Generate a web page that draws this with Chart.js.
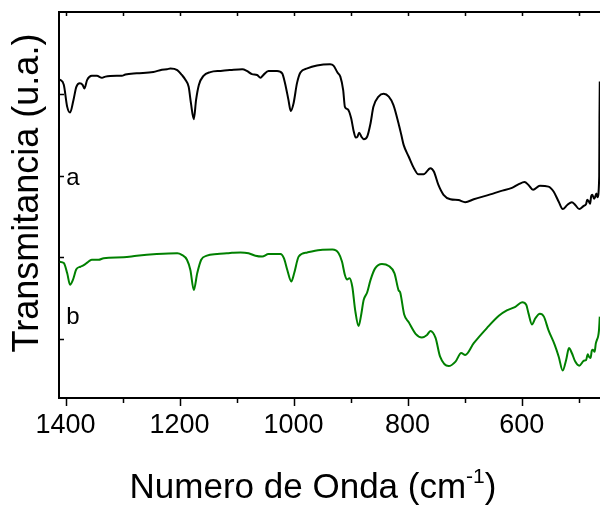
<!DOCTYPE html>
<html>
<head>
<meta charset="utf-8">
<script src="https://cdn.jsdelivr.net/npm/chart.js@4.4.1/dist/chart.umd.min.js"></script>
<style>
  html, body { margin: 0; padding: 0; background: #fff; }
  #wrap { width: 600px; height: 506px; }
</style>
</head>
<body>
<div id="wrap"><canvas id="c" width="600" height="506"></canvas></div>
<script>
// Spectrum a (black)
const wavenumberA = [1410,1403,1397,1392,1386,1381,1375,1370,1367,1362,1354,1345,1336,1330,1310,1301,1295,1275,1246,1231,1222,1216,1204,1196,1190,1184,1180,1175,1171,1166,1158,1146,1128,1111,1090,1082,1073,1064,1058,1053,1044,1029,1020,1015,1009,1005,1000,994,988,976,959,936,930,923,918,913,910,905,899,895,891,888,885,881,877,871,865,860,851,842,833,825,816,811,807,798,789,781,772,760,754,746,737,725,711,699,684,655,637,617,605,595,588,580,568,553,544,535,528,520,512,506,499,491,487,485,482,480,478,476,473,471,469,467,464,463.5,463];
const transA = [83.5,82.2,76.8,75.4,78.5,81.7,82.6,82.2,81.3,83.4,84.4,84.4,83.9,84.2,84.4,84.4,84.7,85.0,85.3,85.9,86.0,86.2,85.8,84.6,83.5,81.7,77.7,73.8,78.5,82.2,84.4,85.3,85.6,85.8,86.0,85.6,84.8,84.6,83.9,84.6,85.6,85.6,85.0,82.6,78.5,75.8,77.7,82.6,85.2,86.2,86.9,87.2,86.9,85.2,84.2,80.9,76.8,76.2,74.0,71.1,69.3,69.5,70.5,69.5,68.9,69.5,72.8,76.8,79.3,80.0,79.3,77.3,72.8,69.9,67.5,64.6,61.8,60.3,60.3,61.8,61.0,57.7,55.3,54.2,54.0,53.5,54.2,55.4,56.2,57.0,57.9,58.4,57.7,56.5,57.5,57.3,56.1,53.6,51.8,52.8,53.5,52.8,51.8,52.6,53.0,54.1,53.6,53.1,55.0,55.3,54.3,54.8,55.6,54.7,59.7,74.0,83.0];

// Spectrum b (green)
const wavenumberB = [1410,1403,1397,1392,1387,1381,1374,1368,1362,1354,1342,1333,1298,1275,1240,1204,1196,1187,1181,1175,1169,1162,1152,1134,1117,1108,1093,1079,1067,1055,1044,1023,1017,1011,1004,999,991,976,953,932,921,915,910,906,902,897,892,886,882,877,871,865,857,845,833,823,816,813,806,798,786,775,766,760,751,743,728,716,706,699,684,661,640,626,611,599,592,588,582,576,568,561,553,542,535,528,522,517,512,506,499,491,487,484,482,479,477,475,472,470,468,466,464.5,463];
const transB = [38.9,38.6,36.1,33.3,34.5,37.1,37.7,38.1,38.7,39.4,39.4,39.8,40.0,40.4,40.8,41.0,40.6,39.4,36.9,32.0,36.1,39.4,40.4,40.8,41.0,41.1,41.2,41.0,40.4,40.2,40.8,40.8,39.8,36.9,34.1,36.1,40.2,41.2,41.8,41.9,41.0,38.9,35.7,34.6,34.9,32.8,27.1,23.2,25.5,29.6,31.4,34.5,37.3,38.4,37.9,36.1,32.0,31.4,26.0,24.1,21.3,20.4,21.0,22.0,20.3,15.7,13.4,14.5,16.6,16.1,19.0,22.7,25.7,27.0,27.9,29.0,28.4,26.3,23.6,25.1,26.2,25.5,22.2,18.6,15.7,12.3,14.9,17.8,16.6,14.5,13.5,14.7,14.9,16.3,15.7,15.4,17.2,17.4,16.9,18.9,19.8,20.6,22.0,25.5];

// Axis ranges and tick positions
const xRange = [462.6, 1411.4];
const yRange = [5.6, 100];
const majorTicks = [1400, 1200, 1000, 800, 600];
const minorTicks = [1300, 1100, 900, 700, 500];
const yTicks = [20, 40, 60, 80];

// Curve tags
const tagText = ['a', 'b'];
const tagAt = [[1387, 59.4], [1387, 25.2]];

const FONT = '"Liberation Sans", Arial, Helvetica, sans-serif';

function toPoints(xs, ys) {
  return xs.map((v, i) => ({ x: v, y: ys[i] }));
}

// Frame, tick marks, tags and axis titles
const framePlugin = {
  id: 'framePlugin',
  afterDatasetsDraw(chart) {
    const { ctx, chartArea: a, scales } = chart;
    const x = scales.x, y = scales.y;
    ctx.save();
    ctx.strokeStyle = '#000';
    ctx.lineWidth = 2;
    ctx.beginPath();
    ctx.moveTo(a.left - 1, a.top);
    ctx.lineTo(a.right, a.top);
    ctx.stroke();

    ctx.lineWidth = 1.5;
    ctx.beginPath();
    majorTicks.forEach(v => {
      const px = Math.round(x.getPixelForValue(v)) + 0.5;
      ctx.moveTo(px, a.bottom); ctx.lineTo(px, a.bottom + 8);
      ctx.moveTo(px, a.top); ctx.lineTo(px, a.top + 4);
    });
    minorTicks.forEach(v => {
      const px = Math.round(x.getPixelForValue(v)) + 0.5;
      ctx.moveTo(px, a.bottom); ctx.lineTo(px, a.bottom + 5);
      ctx.moveTo(px, a.top); ctx.lineTo(px, a.top + 4);
    });
    yTicks.forEach(v => {
      const py = Math.round(y.getPixelForValue(v)) + 0.5;
      ctx.moveTo(a.left, py); ctx.lineTo(a.left + 5, py);
    });
    ctx.stroke();

    ctx.fillStyle = '#000';
    ctx.font = '24px ' + FONT;
    ctx.textAlign = 'center';
    ctx.textBaseline = 'middle';
    tagText.forEach((t, i) => {
      ctx.fillText(t, x.getPixelForValue(tagAt[i][0]), y.getPixelForValue(tagAt[i][1]));
    });

    // x title with superscript
    const main = 'Numero de Onda (cm';
    const sup = '-1';
    const close = ')';
    const big = '35px ' + FONT, small = '21px ' + FONT;
    ctx.font = big; const w1 = ctx.measureText(main).width; const w3 = ctx.measureText(close).width;
    ctx.font = small; const w2 = ctx.measureText(sup).width;
    const total = w1 + w2 + w3;
    let sx = 313 - total / 2;
    const by = 498;
    ctx.textAlign = 'left';
    ctx.textBaseline = 'alphabetic';
    ctx.font = big; ctx.fillText(main, sx, by); sx += w1;
    ctx.font = small; ctx.fillText(sup, sx, by - 15); sx += w2;
    ctx.font = big; ctx.fillText(close, sx, by);

    // y title
    ctx.translate(28, 193);
    ctx.rotate(-Math.PI / 2);
    ctx.textAlign = 'center';
    ctx.textBaseline = 'middle';
    ctx.font = '36px ' + FONT;
    ctx.fillText('Transmitancia (u.a.)', 0, 0);
    ctx.restore();
  }
};

new Chart(document.getElementById('c'), {
  type: 'line',
  data: {
    datasets: [
      { data: toPoints(wavenumberA, transA), borderColor: '#000000', borderWidth: 2, pointRadius: 0, cubicInterpolationMode: 'monotone', fill: false },
      { data: toPoints(wavenumberB, transB), borderColor: '#008000', borderWidth: 2, pointRadius: 0, cubicInterpolationMode: 'monotone', fill: false }
    ]
  },
  options: {
    responsive: false,
    animation: false,
    events: [],
    layout: { padding: { top: 12, left: 0, right: 0, bottom: 0 } },
    plugins: { legend: { display: false }, tooltip: { enabled: false } },
    scales: {
      x: {
        type: 'linear',
        reverse: true,
        min: xRange[0],
        max: xRange[1],
        grid: { display: false, drawTicks: false },
        border: { display: true, color: '#000', width: 2 },
        ticks: {
          stepSize: 100,
          includeBounds: false,
          autoSkip: false,
          maxRotation: 0,
          padding: 11,
          color: '#000',
          font: { family: FONT, size: 27 },
          callback: v => (v % 200 === 0 ? String(v) : '')
        },
        afterFit: s => { s.height = 108; }
      },
      y: {
        min: yRange[0],
        max: yRange[1],
        grid: { display: false, drawTicks: false },
        border: { display: true, color: '#000', width: 2 },
        ticks: { display: false },
        afterFit: s => { s.width = 59; }
      }
    }
  },
  plugins: [framePlugin]
});
</script>
</body>
</html>
